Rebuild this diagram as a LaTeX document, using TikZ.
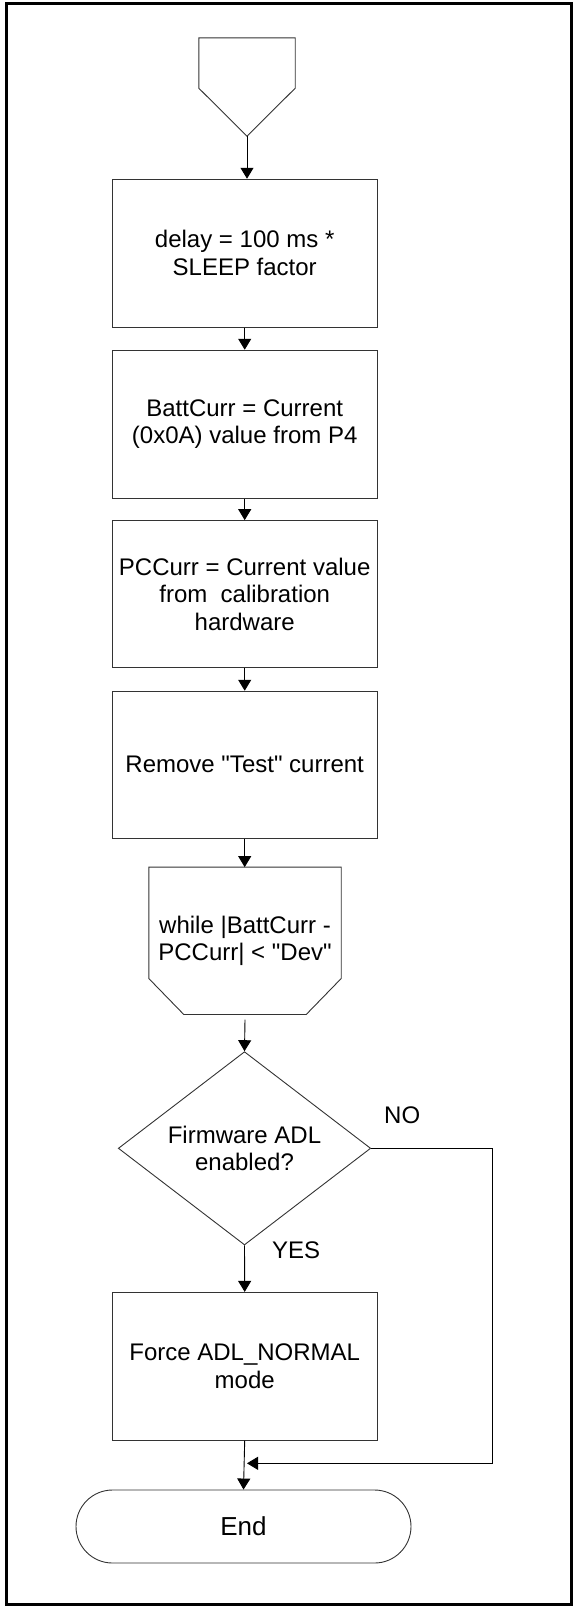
\documentclass[tikz,border=0pt]{standalone}
\usepackage{fontspec}
\setmainfont{Liberation Sans}
\usetikzlibrary{arrows.meta,shapes.geometric}
\newcommand{\sq}{\textquotedbl}

\begin{document}
\begin{tikzpicture}[x=1pt,y=-1pt,
  every node/.style={font=\fontsize{24}{27.6}\selectfont, align=center, inner sep=0pt},
  outline/.style={draw=black!80, line width=0.9pt},
  procbox/.style={outline, minimum width=265pt, minimum height=148pt},
  decision/.style={diamond, outline, minimum width=252.4pt, minimum height=193.3pt, aspect=1.306},
  terminal/.style={outline, rounded corners=36.5pt, minimum width=335pt, minimum height=73pt,
    font=\fontsize{26}{30}\selectfont},
  flow/.style={line width=0.9pt, -{Triangle[length=11pt,width=13pt]}},
  frame/.style={line width=2.5pt}]

\useasboundingbox (0,0) rectangle (573,1606);
\draw[frame] (6.5,3.5) rectangle (571.5,1604.5);

% entry connector (pentagon pointing down)
\node[minimum width=96pt, minimum height=98pt] (start) at (247,87) {};
\draw[outline] (start.north west) -- (start.north east) -- ([yshift=48pt]start.south east)
  -- (start.south) -- ([yshift=48pt]start.south west) -- cycle;

% process steps
\node[procbox] (b1) at (244.7,253.2) {delay = 100 ms *\\SLEEP factor};
\node[procbox] (b2) at (244.7,424.2) {BattCurr = Current\\(0x0A) value from P4};
\node[procbox, minimum height=147pt] (b3) at (244.7,594.1) {PCCurr = Current value\\from\ \ calibration\\hardware};
\node[procbox, minimum height=147pt] (b4) at (244.7,764.7) {Remove \sq Test\sq{} current};

% loop limit (chamfered bottom)
\node[minimum width=192pt, minimum height=147pt] (loop) at (245,940.8) {while |BattCurr -\\PCCurr| < \sq Dev\sq};
\draw[outline] (loop.north west) -- (loop.north east) -- ([yshift=36pt]loop.south east)
  -- ([xshift=-35pt]loop.south east) -- ([xshift=35pt]loop.south west)
  -- ([yshift=36pt]loop.south west) -- cycle;

% decision
\node[decision] (dec) at (244.5,1148.3) {Firmware ADL\\enabled?};
\node[anchor=base west] (no) at (384,1123) {NO};
\node[anchor=base west] (yes) at (272,1258) {YES};

\node[procbox, minimum height=147.7pt] (b5) at (244.7,1366.2) {Force ADL\_NORMAL\\mode};
\node[terminal] (end) at (243.5,1526.5) {End};

% connectors
\draw[flow] (start.south) -- (start.south |- b1.north);
\draw[flow] (b1) -- (b2);
\draw[flow] (b2) -- (b3);
\draw[flow] (b3) -- (b4);
\draw[flow] (b4.south) -- (b4.south |- loop.north);
\draw[flow] ([yshift=-5pt]loop.south) -- (dec.north);
\draw[flow] (dec.south) -- (b5.north);
\draw[flow] (b5.south) -- (end.north);

\coordinate (nocorner) at (492,1463.3);
\coordinate (join) at (247,1463.3);
\draw[flow] (dec.east) -| (nocorner) -- (join);
\end{tikzpicture}
\end{document}
